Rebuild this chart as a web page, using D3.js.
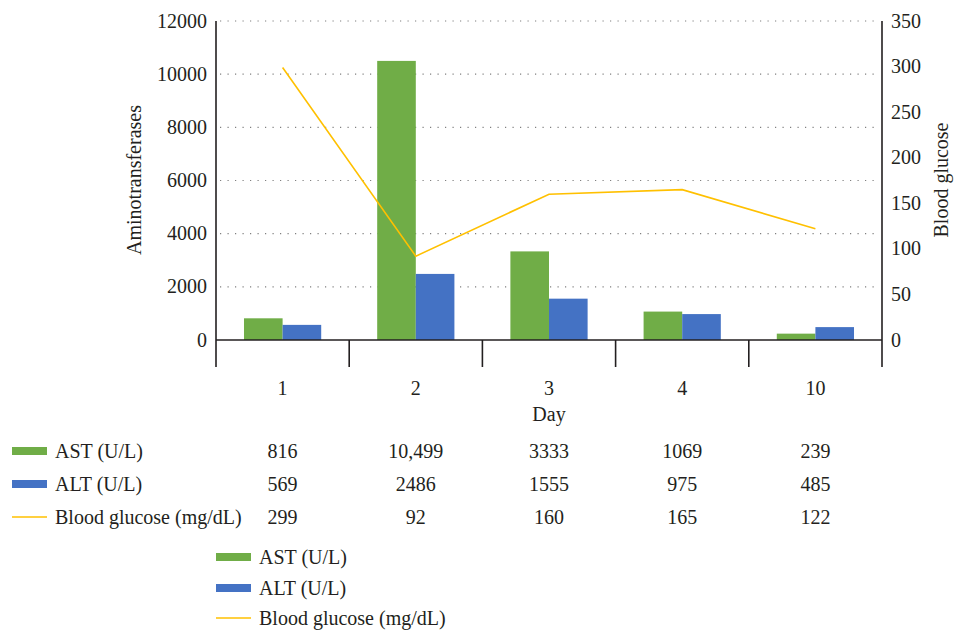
<!DOCTYPE html>
<html><head><meta charset="utf-8">
<script src="https://cdn.jsdelivr.net/npm/d3@7"></script>
<style>body{margin:0;background:#fff}svg{display:block}text{font-family:"Liberation Serif","DejaVu Serif",serif;fill:#231f20}</style>
</head><body>
<svg id="c" width="955" height="631"></svg>
<script>
const days = ["1","2","3","4","10"];
const ast = [816, 10499, 3333, 1069, 239];
const alt = [569, 2486, 1555, 975, 485];
const glucose = [299, 92, 160, 165, 122];
const astLabels = ["816","10,499","3333","1069","239"];
const altLabels = ["569","2486","1555","975","485"];
const gluLabels = ["299","92","160","165","122"];
const leftTicks = [0,2000,4000,6000,8000,10000,12000];
const rightTicks = [0,50,100,150,200,250,300,350];
const seriesNames = ["AST (U/L)","ALT (U/L)","Blood glucose (mg/dL)"];
const colors = {ast:"#70AD47", alt:"#4472C4", glu:"#FFC000"};
const FS = 20;

const svg = d3.select("#c");
const L = 216, R = 882, T = 21, B = 340;
const x = d3.scaleBand().domain(days).range([L, R]).paddingInner(0).paddingOuter(0);
const yL = d3.scaleLinear().domain([0,12000]).range([B, T]);
const yR = d3.scaleLinear().domain([0,350]).range([B, T]);
const inner = d3.scaleBand().domain(["ast","alt"]).range([0, x.bandwidth()]).paddingInner(0).paddingOuter(0.725);

// gridlines
svg.append("g").selectAll("line").data(leftTicks.filter(d=>d>0)).join("line")
  .attr("x1", L+4).attr("x2", R-2).attr("y1", d=>yL(d)).attr("y2", d=>yL(d))
  .attr("stroke", "#7f7f7f").attr("stroke-width", 1.2).attr("stroke-dasharray", "1.2,6.3");

// bars
const g = svg.append("g");
days.forEach((d,i)=>{
  g.append("rect").attr("x", x(d)+inner("ast")).attr("width", inner.bandwidth())
    .attr("y", yL(ast[i])).attr("height", B - yL(ast[i])).attr("fill", colors.ast);
  g.append("rect").attr("x", x(d)+inner("alt")).attr("width", inner.bandwidth())
    .attr("y", yL(alt[i])).attr("height", B - yL(alt[i])).attr("fill", colors.alt);
});

// line
const line = d3.line().x((d,i)=>x(days[i])+x.bandwidth()/2).y(d=>yR(d));
svg.append("path").datum(glucose).attr("d", line).attr("fill","none")
  .attr("stroke", colors.glu).attr("stroke-width", 1.6);

// axes
const ax = svg.append("g").attr("stroke","#231f20").attr("stroke-width",1.6);
ax.append("line").attr("x1",L).attr("x2",L).attr("y1",T).attr("y2",367);
ax.append("line").attr("x1",R).attr("x2",R).attr("y1",T).attr("y2",367);
ax.append("line").attr("x1",L).attr("x2",R).attr("y1",B).attr("y2",B);
days.forEach((d,i)=>{ if(i>0) ax.append("line").attr("x1",x(d)).attr("x2",x(d)).attr("y1",B).attr("y2",367); });

// tick labels
svg.append("g").selectAll("text").data(leftTicks).join("text")
  .attr("x", 207).attr("y", d=>yL(d)).attr("dy","0.33em").attr("text-anchor","end")
  .attr("font-size", FS).text(d=>d);
svg.append("g").selectAll("text").data(rightTicks).join("text")
  .attr("x", 891).attr("y", d=>yR(d)).attr("dy","0.33em").attr("text-anchor","start")
  .attr("font-size", FS).text(d=>d);

// axis titles
svg.append("text").attr("transform","translate(141,180) rotate(-90)").attr("text-anchor","middle")
  .attr("font-size",FS).text("Aminotransferases");
svg.append("text").attr("transform","translate(948,180) rotate(-90)").attr("text-anchor","middle")
  .attr("font-size",FS).text("Blood glucose");

// category labels
svg.append("g").selectAll("text").data(days).join("text")
  .attr("x", d=>x(d)+x.bandwidth()/2).attr("y", 395).attr("text-anchor","middle")
  .attr("font-size",FS).text(d=>d);
svg.append("text").attr("x", x("3")+x.bandwidth()/2).attr("y", 421).attr("text-anchor","middle")
  .attr("font-size",FS).text("Day");

// data table
const rows = [astLabels, altLabels, gluLabels];
const rowY = [451, 484, 517];
const rowKeys = ["ast","alt","glu"];
rows.forEach((r,ri)=>{
  const yy = rowY[ri];
  if (rowKeys[ri]==="glu") svg.append("line").attr("x1",12).attr("x2",47).attr("y1",yy).attr("y2",yy).attr("stroke",colors.glu).attr("stroke-width",1.6);
  else svg.append("rect").attr("x",12).attr("y",yy-4).attr("width",35).attr("height",8).attr("fill",colors[rowKeys[ri]]);
  svg.append("text").attr("x",55).attr("y",yy).attr("dy","0.33em").attr("font-size",FS).text(seriesNames[ri]);
  svg.append("g").selectAll("text").data(r).join("text")
    .attr("x",(d,i)=>x(days[i])+x.bandwidth()/2).attr("y",yy).attr("dy","0.33em")
    .attr("text-anchor","middle").attr("font-size",FS).text(d=>d);
});

// legend
const legY = [557, 588, 618];
rowKeys.forEach((k,i)=>{
  const yy = legY[i];
  if (k==="glu") svg.append("line").attr("x1",216).attr("x2",251).attr("y1",yy).attr("y2",yy).attr("stroke",colors.glu).attr("stroke-width",1.6);
  else svg.append("rect").attr("x",216).attr("y",yy-4).attr("width",35).attr("height",8).attr("fill",colors[k]);
  svg.append("text").attr("x",259).attr("y",yy).attr("dy","0.33em").attr("font-size",FS).text(seriesNames[i]);
});
</script>
</body></html>
